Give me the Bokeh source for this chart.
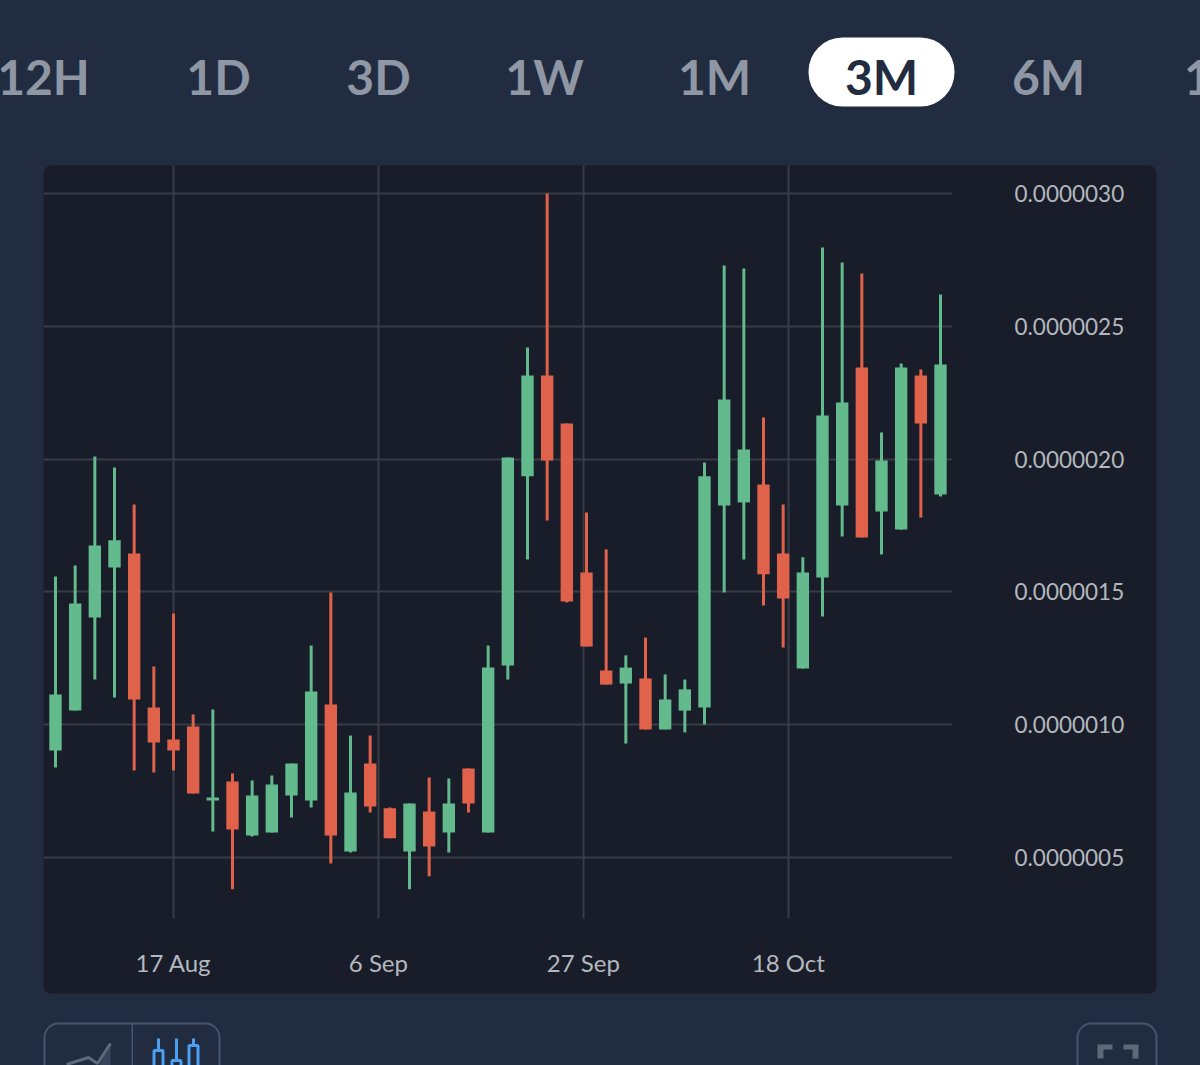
import numpy as np
from bokeh.plotting import figure
from bokeh.embed import file_html
from bokeh.resources import INLINE
from bokeh.models import BoxAnnotation, ColumnDataSource, FixedTicker, Label, PrintfTickFormatter

# Candles, in units of 1e-7
opens = [9.03, 10.53, 14.04, 15.92, 16.45, 10.65, 9.44, 9.93, 7.15, 7.86, 5.83, 5.94,
         7.33, 7.15, 10.76, 5.23, 8.54, 6.85, 5.23, 6.73, 5.94, 8.35, 5.94, 12.23,
         19.35, 23.15, 21.34, 15.73, 12.04, 11.55, 11.74, 9.82, 10.53, 10.65, 18.25, 18.37,
         19.04, 16.45, 12.12, 15.54, 18.25, 23.45, 18.03, 17.35, 23.15, 18.67]
closes = [11.14, 14.56, 16.75, 16.94, 10.95, 9.33, 9.03, 7.41, 7.26, 6.05, 7.33, 7.75,
          8.54, 11.25, 5.83, 7.45, 6.92, 5.72, 7.03, 5.41, 7.03, 7.03, 12.15, 20.06,
          23.15, 19.95, 14.64, 12.94, 11.51, 12.15, 9.82, 10.95, 11.33, 19.35, 22.24, 20.36,
          15.66, 14.75, 15.73, 21.64, 22.13, 17.05, 19.95, 23.45, 21.34, 23.56]
highs = [15.58, 15.99, 20.10, 19.68, 18.29, 12.19, 14.19, 10.38, 10.57, 8.16, 7.90, 8.09,
         8.54, 12.98, 14.98, 9.59, 9.59, 6.88, 7.03, 8.01, 7.97, 8.35, 12.98, 20.06,
         24.20, 30.00, 21.34, 17.99, 16.60, 12.61, 13.28, 11.89, 11.70, 19.87, 27.29, 27.18,
         21.57, 18.29, 16.30, 27.97, 27.40, 26.99, 21.00, 23.60, 23.37, 26.20]
lows = [8.39, 10.53, 11.70, 11.02, 8.28, 8.20, 8.28, 7.41, 5.98, 3.80, 5.79, 5.94,
        6.51, 6.88, 4.77, 5.19, 6.69, 5.72, 3.80, 4.29, 5.19, 6.69, 5.94, 11.70,
        16.22, 17.69, 14.60, 12.94, 11.51, 9.29, 9.82, 9.82, 9.71, 10.01, 14.98, 16.22,
        14.49, 12.91, 12.12, 14.07, 17.09, 17.05, 16.41, 17.35, 17.80, 18.59]

y_ticks = [5e-7, 10e-7, 15e-7, 20e-7, 25e-7, 30e-7]
x_ticks = [6.0, 16.42, 26.84, 37.26]
x_labels = ["17 Aug", "6 Sep", "27 Sep", "18 Oct"]
tabs = ["12H", "1D", "3D", "1W", "1M", "3M", "6M", "1Y"]
tab_x = [43, 218, 378, 544, 714, 881, 1048, 1213]

BG = "#212c40"
PANEL = "#181d29"
GRID = "#383c47"
GREEN = "#62ba8d"
RED = "#e0624a"
TABGREY = "#8f97a4"
AXTEXT = "#b4b8be"
EDGE = "#47536a"
ICON = "#5d6879"
BLUE = "#4a9ff0"
FONT = "Lato"
ABS = {"position": "absolute", "left": "0", "top": "0"}

# ---- page furniture: a figure whose frame is the whole window, in pixel units
bg = figure(width=1200, height=1065, output_backend="svg", toolbar_location=None, tools="",
            x_range=(0, 1200), y_range=(1065, 0), x_axis_type=None, y_axis_type=None,
            min_border=0, background_fill_color=BG, border_fill_color=BG, outline_line_color=None,
            styles=ABS)
bg.grid.visible = False

def box(l_, r, t, b, fill=None, line=None, radius=0, lw=2):
    bg.add_layout(BoxAnnotation(left=l_, right=r, top=t, bottom=b,
                                fill_color=fill, fill_alpha=1 if fill else 0,
                                line_color=line, line_alpha=1 if line else 0, line_width=lw,
                                border_radius=radius, editable=False))

box(43, 1156, 165, 993, fill=PANEL, radius=8)
box(808, 954, 37, 106, fill="#ffffff", radius=34)
for t, xp in zip(tabs, tab_x):
    bg.add_layout(Label(x=xp, y=76, text=t, text_font=FONT, text_font_size="48px", text_font_style="bold",
                        text_color=BG if t == "3M" else TABGREY,
                        text_align="center", text_baseline="middle"))

box(44, 219, 1023, 1090, line=EDGE, radius=14)
box(131, 132.5, 1023, 1065, fill=EDGE)
box(1077, 1156, 1023, 1090, line=EDGE, radius=14)
bg.patch([110, 110, 98], [1043, 1066, 1066], fill_color="#39445a", line_color=None)
bg.line([66, 88, 97, 110], [1064, 1057, 1063, 1043], line_color=ICON, line_width=3)
for xc, tb in zip([158, 176, 193], [1050, 1060, 1045]):
    bg.segment(xc, 1038, xc, tb, line_color=BLUE, line_width=3)
    bg.quad(left=xc - 4.5, right=xc + 4.5, top=tb, bottom=1090, fill_color=None, line_color=BLUE, line_width=3)
bg.patch([1097, 1112, 1112, 1103, 1103, 1097], [1044, 1044, 1049, 1049, 1058, 1058], fill_color=ICON, line_color=None)
bg.patch([1123, 1138, 1138, 1132, 1132, 1123], [1044, 1044, 1058, 1058, 1049, 1049], fill_color=ICON, line_color=None)

# ---- chart
o = np.array(opens) * 1e-7
c = np.array(closes) * 1e-7
h = np.array(highs) * 1e-7
l = np.array(lows) * 1e-7
idx = np.arange(len(o))
col = [GREEN if b > a else RED for a, b in zip(o, c)]
src = ColumnDataSource(dict(x=idx, top=np.maximum(o, c), bottom=np.minimum(o, c), high=h, low=l, color=col))

p = figure(width=1200, height=1065, output_backend="svg", toolbar_location=None, tools="",
           x_range=(-0.61, 45.61), y_range=(2.703e-7, 31.054e-7), y_axis_location="right",
           min_border_left=43, min_border_right=248, min_border_top=165, min_border_bottom=147,
           background_fill_color=None, border_fill_color=None, outline_line_color=None,
           styles=ABS)

p.yaxis.ticker = FixedTicker(ticks=y_ticks)
p.yaxis.formatter = PrintfTickFormatter(format="%.7f")
p.xaxis.ticker = FixedTicker(ticks=x_ticks)
p.xaxis.major_label_overrides = dict(zip(x_ticks, x_labels))
for ax, standoff, size in ((p.yaxis[0], 56, "22.5px"), (p.xaxis[0], 23, "24px")):
    ax.axis_line_color = None
    ax.major_tick_line_color = None
    ax.minor_tick_line_color = None
    ax.major_label_text_font = FONT
    ax.major_label_text_font_size = size
    ax.major_label_text_color = AXTEXT
    ax.major_label_standoff = standoff
p.xgrid.ticker = FixedTicker(ticks=x_ticks)
p.grid.grid_line_color = GRID
p.grid.grid_line_width = 2

p.segment("x", "high", "x", "low", source=src, line_color="color", line_width=3)
p.vbar(x="x", top="top", bottom="bottom", width=0.63, source=src, fill_color="color", line_color=None)

html = file_html((bg, p), INLINE)
html = html.replace("</head>", "<style>html,body{margin:0;padding:0;background:#212c40;overflow:hidden}</style></head>")
open("out.html", "w").write(html)
